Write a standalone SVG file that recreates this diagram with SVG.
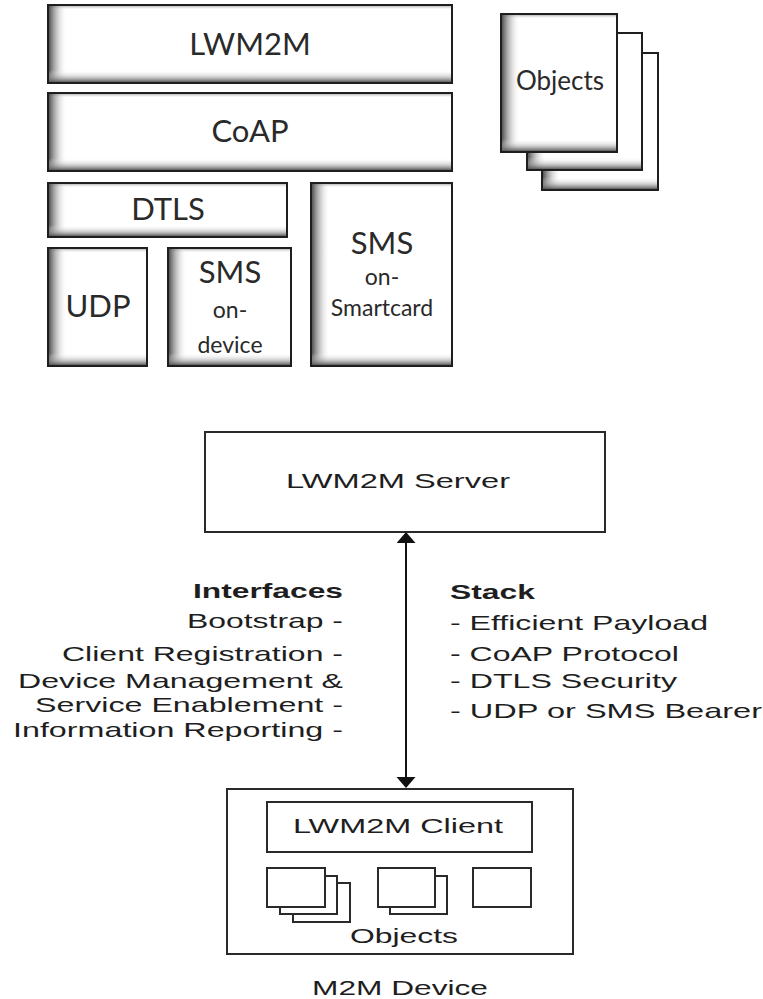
<svg xmlns="http://www.w3.org/2000/svg" width="763" height="999" viewBox="0 0 763 999">
<style>
.bg{fill:#ffffff}
.frame{fill:none;stroke:#1e1e1e;stroke-width:2}
.shl{fill:url(#shL)}
.shb{fill:url(#shB)}
.sht{fill:url(#shT)}
.big{font-family:Lato,"Open Sans",sans-serif;font-size:31px;fill:#2a2a2a;text-anchor:middle}
.mid{font-family:Lato,"Open Sans",sans-serif;font-size:23px;fill:#2a2a2a;text-anchor:middle}
.obj{font-family:Lato,"Open Sans",sans-serif;font-size:26px;fill:#2a2a2a;text-anchor:middle}
.box{fill:#ffffff;stroke:#2a2a2a;stroke-width:2}
.lbl{font-family:"Liberation Sans",Arial,sans-serif;font-size:21px;fill:#1e1e1e}
.bold{font-weight:bold}
.c{text-anchor:middle}
.e{text-anchor:end}
.s{text-anchor:start}
.conn{stroke:#111;stroke-width:2;fill:none}
</style>
<defs>
<linearGradient id="shL" x1="0" y1="0" x2="1" y2="0">
<stop offset="0" stop-color="#4a4a4a" stop-opacity="0.95"/>
<stop offset="0.5" stop-color="#9a9a9a" stop-opacity="0.45"/>
<stop offset="1" stop-color="#ffffff" stop-opacity="0"/>
</linearGradient>
<linearGradient id="shB" x1="0" y1="0" x2="0" y2="1">
<stop offset="0" stop-color="#ffffff" stop-opacity="0"/>
<stop offset="0.6" stop-color="#a0a0a0" stop-opacity="0.55"/>
<stop offset="1" stop-color="#555555" stop-opacity="0.95"/>
</linearGradient>
<linearGradient id="shT" x1="0" y1="0" x2="0" y2="1">
<stop offset="0" stop-color="#8a8a8a" stop-opacity="0.6"/>
<stop offset="1" stop-color="#ffffff" stop-opacity="0"/>
</linearGradient>
<marker id="arr" markerUnits="userSpaceOnUse" markerWidth="12" markerHeight="20" refX="0" refY="9.5" orient="auto-start-reverse">
<path d="M0,0 L11,9.5 L0,19 z" fill="#111"/>
</marker>
</defs>
<rect width="763" height="999" fill="#ffffff"/>

<g id="lwm2m">
<rect class="bg" x="48" y="5" width="404" height="78"/>
<rect class="sht" x="49" y="6" width="402" height="4"/>
<rect class="shl" x="49" y="6" width="18" height="76"/>
<rect class="shb" x="49" y="70" width="402" height="12"/>
<rect class="frame" x="48" y="5" width="404" height="78"/>
<text class="big" x="250" y="55">LWM2M</text>
</g>

<g id="coap">
<rect class="bg" x="48" y="93" width="404" height="78"/>
<rect class="sht" x="49" y="94" width="402" height="4"/>
<rect class="shl" x="49" y="94" width="18" height="76"/>
<rect class="shb" x="49" y="158" width="402" height="12"/>
<rect class="frame" x="48" y="93" width="404" height="78"/>
<text class="big" x="250" y="142">CoAP</text>
</g>

<g id="dtls">
<rect class="bg" x="48" y="183" width="239" height="54"/>
<rect class="sht" x="49" y="184" width="237" height="4"/>
<rect class="shl" x="49" y="184" width="18" height="52"/>
<rect class="shb" x="49" y="225" width="237" height="11"/>
<rect class="frame" x="48" y="183" width="239" height="54"/>
<text class="big" x="168" y="220">DTLS</text>
</g>

<g id="sms-smartcard">
<rect class="bg" x="311" y="183" width="141" height="183"/>
<rect class="sht" x="312" y="184" width="139" height="4"/>
<rect class="shl" x="312" y="184" width="18" height="181"/>
<rect class="shb" x="312" y="353" width="139" height="12"/>
<rect class="frame" x="311" y="183" width="141" height="183"/>
<text class="big" x="382" y="254">SMS</text>
<text class="mid" x="382" y="285">on-</text>
<text class="mid" x="382" y="316">Smartcard</text>
</g>

<g id="udp">
<rect class="bg" x="48" y="248" width="99" height="118"/>
<rect class="sht" x="49" y="249" width="97" height="4"/>
<rect class="shl" x="49" y="249" width="18" height="116"/>
<rect class="shb" x="49" y="353" width="97" height="12"/>
<rect class="frame" x="48" y="248" width="99" height="118"/>
<text class="big" x="98" y="317">UDP</text>
</g>

<g id="sms-device">
<rect class="bg" x="168" y="248" width="123" height="118"/>
<rect class="sht" x="169" y="249" width="121" height="4"/>
<rect class="shl" x="169" y="249" width="18" height="116"/>
<rect class="shb" x="169" y="353" width="121" height="12"/>
<rect class="frame" x="168" y="248" width="123" height="118"/>
<text class="big" x="230" y="283">SMS</text>
<text class="mid" x="230" y="318">on-</text>
<text class="mid" x="230" y="353">device</text>
</g>

<g id="objects-stack">
<rect class="bg" x="542" y="53" width="116" height="137"/>
<rect class="shl" x="543" y="54" width="18" height="135"/>
<rect class="shb" x="543" y="177" width="114" height="12"/>
<rect class="frame" x="542" y="53" width="116" height="137"/>
<rect class="bg" x="527" y="33" width="115" height="137"/>
<rect class="shl" x="528" y="34" width="18" height="135"/>
<rect class="shb" x="528" y="157" width="113" height="12"/>
<rect class="frame" x="527" y="33" width="115" height="137"/>
<rect class="bg" x="501" y="14" width="116" height="138"/>
<rect class="sht" x="502" y="15" width="114" height="4"/>
<rect class="shl" x="502" y="15" width="18" height="136"/>
<rect class="shb" x="502" y="139" width="114" height="12"/>
<rect class="frame" x="501" y="14" width="116" height="138"/>
<text class="obj" x="560" y="90">Objects</text>
</g>

<g id="lwm2m-server">
<rect class="box" x="205" y="432" width="400" height="100"/>
<text class="lbl c" x="398" y="488" textLength="224" lengthAdjust="spacingAndGlyphs">LWM2M Server</text>
</g>

<g id="interfaces">
<text class="lbl bold e" x="343" y="598" textLength="150" lengthAdjust="spacingAndGlyphs">Interfaces</text>
<text class="lbl e" x="343" y="628" textLength="156" lengthAdjust="spacingAndGlyphs">Bootstrap -</text>
<text class="lbl e" x="343" y="661" textLength="281" lengthAdjust="spacingAndGlyphs">Client Registration -</text>
<text class="lbl e" x="343" y="688" textLength="325" lengthAdjust="spacingAndGlyphs">Device Management &amp;</text>
<text class="lbl e" x="343" y="712" textLength="308" lengthAdjust="spacingAndGlyphs">Service Enablement -</text>
<text class="lbl e" x="343" y="737" textLength="330" lengthAdjust="spacingAndGlyphs">Information Reporting -</text>
</g>

<g id="stack">
<text class="lbl bold s" x="450" y="599" textLength="85" lengthAdjust="spacingAndGlyphs">Stack</text>
<text class="lbl s" x="450" y="630" textLength="258" lengthAdjust="spacingAndGlyphs">- Efficient Payload</text>
<text class="lbl s" x="450" y="661" textLength="229" lengthAdjust="spacingAndGlyphs">- CoAP Protocol</text>
<text class="lbl s" x="450" y="688" textLength="227" lengthAdjust="spacingAndGlyphs">- DTLS Security</text>
<text class="lbl s" x="450" y="718" textLength="312" lengthAdjust="spacingAndGlyphs">- UDP or SMS Bearer</text>
</g>

<g id="m2m-device">
<rect class="box" x="227" y="789" width="346" height="165"/>
<text class="lbl c" x="400" y="995" textLength="176" lengthAdjust="spacingAndGlyphs">M2M Device</text>
</g>

<g id="lwm2m-client">
<rect class="box" x="267" y="802" width="265" height="50"/>
<text class="lbl c" x="398" y="833" textLength="210" lengthAdjust="spacingAndGlyphs">LWM2M Client</text>
</g>

<g id="device-objects">
<rect class="box" x="293" y="883" width="57" height="39"/>
<rect class="box" x="280" y="876" width="57" height="38"/>
<rect class="box" x="267" y="868" width="58" height="39"/>
<rect class="box" x="390" y="876" width="57" height="38"/>
<rect class="box" x="378" y="868" width="57" height="39"/>
<rect class="box" x="473" y="868" width="58" height="39"/>
<text class="lbl c" x="404" y="943" textLength="108" lengthAdjust="spacingAndGlyphs">Objects</text>
</g>

<g id="connectors">
<line class="conn" x1="406" y1="543" x2="406" y2="777" marker-start="url(#arr)" marker-end="url(#arr)"/>
</g>
</svg>
